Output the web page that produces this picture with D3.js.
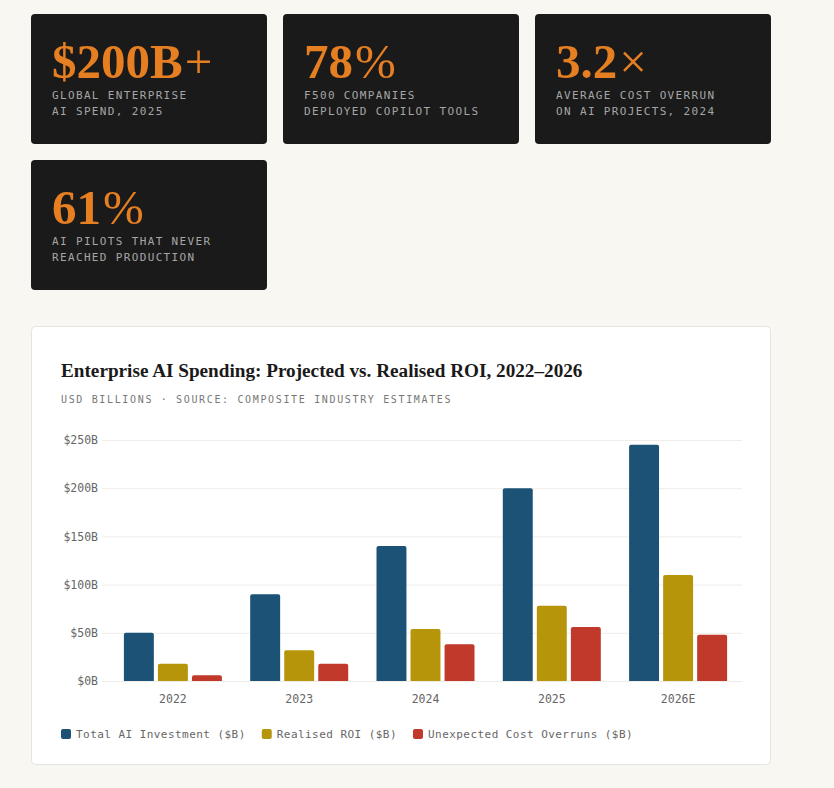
<!DOCTYPE html>
<html>
<head>
<meta charset="utf-8">
<script src="https://cdn.jsdelivr.net/npm/d3@7"></script>
<style>
  html, body { margin: 0; padding: 0; background: #f8f7f2; }
  svg { display: block; }
</style>
</head>
<body>
<div class="page"></div>
<script>
// stat cards
var statValues = ['$200B', '78', '3.2', '61'];
var statSuffix = ['+', '%', '×', '%'];
var statLines = [
  ['GLOBAL ENTERPRISE', 'AI SPEND, 2025'],
  ['F500 COMPANIES', 'DEPLOYED COPILOT TOOLS'],
  ['AVERAGE COST OVERRUN', 'ON AI PROJECTS, 2024'],
  ['AI PILOTS THAT NEVER', 'REACHED PRODUCTION']
];

// chart data
var years = ['2022', '2023', '2024', '2025', '2026E'];
var seriesNames = ['Total AI Investment ($B)', 'Realised ROI ($B)', 'Unexpected Cost Overruns ($B)'];
var investment = [50, 90, 140, 200, 245];
var roi = [18, 32, 54, 78, 110];
var overruns = [6, 18, 38, 56, 48];
var yTicks = [0, 50, 100, 150, 200, 250];
var colors = ['#1b5276', '#b7950b', '#c0392b'];

var width = 834, height = 788;
var mono = "'DejaVu Sans Mono', 'Liberation Mono', monospace";
var serif = "'Liberation Serif', 'DejaVu Serif', serif";

var svg = d3.select('.page')
  .append('svg')
  .attr('width', width)
  .attr('height', height);

// cards: 3 columns, 236 wide, 16 gap
var cards = svg.append('g').selectAll('.card')
  .data(statValues)
  .enter().append('g')
  .attr('class', 'card')
  .attr('transform', function(d, i) {
    return 'translate(' + (31 + (i % 3) * 252) + ',' + (14 + Math.floor(i / 3) * 146) + ')';
  });

cards.append('rect')
  .attr('width', 236)
  .attr('height', 130)
  .attr('rx', 4)
  .attr('fill', '#1a1a1a');

var big = cards.append('text')
  .attr('x', 21)
  .attr('y', 64)
  .attr('fill', '#e67e22')
  .style('font-family', serif)
  .style('font-size', '49px');
big.append('tspan')
  .style('font-weight', 'bold')
  .text(function(d) { return d; });
big.append('tspan')
  .attr('dx', 2)
  .style('font-weight', '300')
  .text(function(d, i) { return statSuffix[i]; });

cards.each(function(d, i) {
  d3.select(this).selectAll('.lbl')
    .data(statLines[i])
    .enter().append('text')
    .attr('class', 'lbl')
    .attr('x', 21)
    .attr('y', function(t, j) { return 85 + j * 16; })
    .attr('fill', '#a6a6a6')
    .style('font-family', mono)
    .style('font-size', '11px')
    .style('letter-spacing', '1.35px')
    .text(function(t) { return t; });
});

// chart panel
var panel = svg.append('g');
panel.append('rect')
  .attr('x', 31.5)
  .attr('y', 326.5)
  .attr('width', 739)
  .attr('height', 438)
  .attr('rx', 4)
  .attr('fill', '#ffffff')
  .attr('stroke', '#e6e4de');

panel.append('text')
  .attr('x', 61)
  .attr('y', 377)
  .attr('fill', '#1a1a1a')
  .style('font-family', serif)
  .style('font-weight', 'bold')
  .style('font-size', '19.2px')
  .text('Enterprise AI Spending: Projected vs. Realised ROI, 2022–2026');

panel.append('text')
  .attr('x', 61)
  .attr('y', 403)
  .attr('fill', '#777')
  .style('font-family', mono)
  .style('font-size', '10px')
  .style('letter-spacing', '1.65px')
  .text('USD BILLIONS · SOURCE: COMPOSITE INDUSTRY ESTIMATES');

var y = d3.scaleLinear().domain([0, 250]).range([681, 440]);
var x0 = d3.scaleBand().domain(years).range([110, 741]).paddingInner(0.224).paddingOuter(0.11);
var x1 = d3.scaleBand().domain(d3.range(3)).range([0, x0.bandwidth()]).paddingInner(0.12);

// grid
var yAxis = d3.axisLeft(y)
  .tickValues(yTicks)
  .tickSize(-640)
  .tickPadding(4)
  .tickFormat(function(d) { return '$' + d + 'B'; });

var gy = panel.append('g')
  .attr('transform', 'translate(102,0)')
  .call(yAxis);
gy.select('.domain').remove();
gy.selectAll('.tick line').attr('stroke', '#efede8');
gy.selectAll('.tick text')
  .attr('fill', '#666')
  .style('font-family', mono)
  .style('font-size', '11.5px');

var xAxis = d3.axisBottom(x0).tickSize(0).tickPadding(14);
var gx = panel.append('g')
  .attr('transform', 'translate(0,681)')
  .call(xAxis);
gx.select('.domain').remove();
gx.selectAll('.tick text')
  .attr('fill', '#666')
  .style('font-family', mono)
  .style('font-size', '11.5px');

// bars
var series = [investment, roi, overruns];
var rows = years.map(function(yr, i) {
  return series.map(function(s, k) { return { year: yr, k: k, v: s[i] }; });
});

function topRounded(x, y0, w, h, r) {
  return 'M' + x + ',' + (y0 + h) +
    'V' + (y0 + r) +
    'Q' + x + ',' + y0 + ' ' + (x + r) + ',' + y0 +
    'H' + (x + w - r) +
    'Q' + (x + w) + ',' + y0 + ' ' + (x + w) + ',' + (y0 + r) +
    'V' + (y0 + h) + 'Z';
}

panel.append('g')
  .selectAll('.group')
  .data(rows)
  .enter().append('g')
  .attr('class', 'group')
  .attr('transform', function(d) { return 'translate(' + x0(d[0].year) + ',0)'; })
  .selectAll('path')
  .data(function(d) { return d; })
  .enter().append('path')
  .attr('d', function(d) {
    return topRounded(x1(d.k), y(d.v), x1.bandwidth(), y(0) - y(d.v), 2);
  })
  .attr('fill', function(d) { return colors[d.k]; });

// legend
var legend = panel.append('g').attr('transform', 'translate(61,729)');
var lx = 0;
seriesNames.forEach(function(name, i) {
  var item = legend.append('g').attr('transform', 'translate(' + lx + ',0)');
  item.append('rect')
    .attr('width', 10)
    .attr('height', 10)
    .attr('rx', 2)
    .attr('fill', colors[i]);
  var t = item.append('text')
    .attr('x', 15)
    .attr('y', 9)
    .attr('fill', '#666')
    .style('font-family', mono)
    .style('font-size', '11px')
    .style('letter-spacing', '0.45px')
    .text(name);
  lx += 15 + t.node().getComputedTextLength() + 16;
});
</script>
</body>
</html>
